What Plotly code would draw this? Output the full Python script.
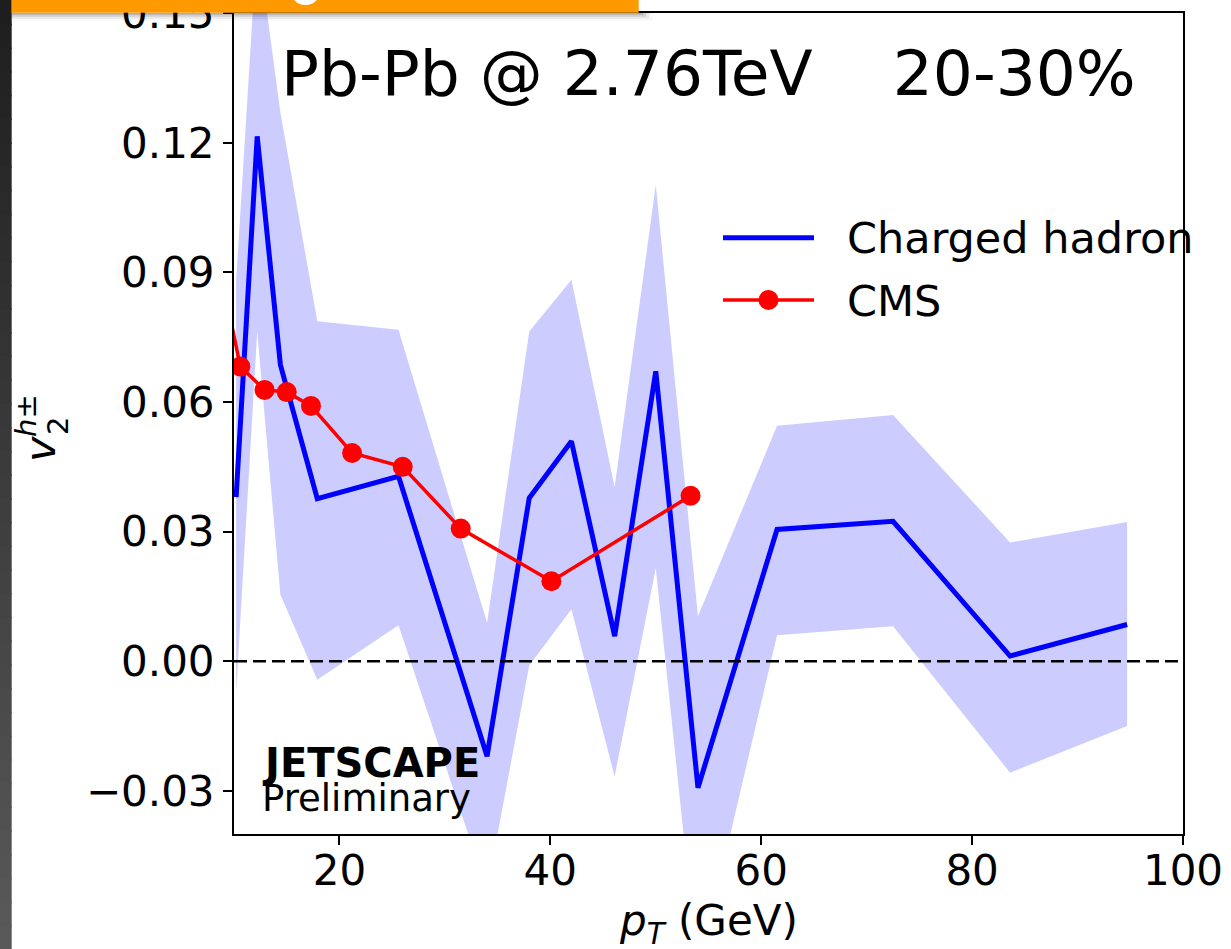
import plotly.graph_objects as go

# ---------------- data ----------------
pt_ch = [10.2, 12.2, 14.4, 17.9, 25.6, 34.0, 38.0, 42.0, 46.1, 50.0, 54.0, 61.5, 72.5, 83.6, 94.7]
v2_ch = [0.038, 0.1215, 0.0686, 0.0376, 0.0428, -0.022, 0.0378, 0.0509, 0.0058, 0.0671,
         -0.0293, 0.0305, 0.0324, 0.0012, 0.0085]
v2_ch_hi = [0.088, 0.167, 0.127, 0.0787, 0.0767, 0.0089, 0.0763, 0.0883, 0.0403, 0.1103,
            0.0104, 0.0545, 0.0570, 0.0275, 0.0322]
v2_ch_lo = [-0.0073, 0.0763, 0.0154, -0.0043, 0.0083, -0.053, -0.001, 0.012, -0.0267, 0.0216,
            -0.072, 0.006, 0.0081, -0.0258, -0.015]

pt_cms = [9.0, 10.6, 12.9, 15.0, 17.3, 21.2, 26.0, 31.5, 40.1, 53.3]
v2_cms = [0.087, 0.0682, 0.0628, 0.0623, 0.0591, 0.0482, 0.0450, 0.0307, 0.0185, 0.0383]

x_ticks = [20, 40, 60, 80, 100]
y_ticks = [-0.03, 0.0, 0.03, 0.06, 0.09, 0.12, 0.15]
y_ticklabels = ["\u22120.03", "0.00", "0.03", "0.06", "0.09", "0.12", "0.15"]

# ---------------- layout geometry ----------------
W, H = 1231, 949
ML, MR, MT, MB = 234, 48, 13, 115
PW, PH = W - ML - MR, H - MT - MB
FONT = "DejaVu Sans"


def px(x):
    return (x - ML) / PW


def py(y):
    return (H - MB - y) / PH


fig = go.Figure()

# uncertainty band
fig.add_trace(go.Scatter(x=pt_ch, y=v2_ch_hi, mode="lines", line=dict(width=0, color="rgba(0,0,255,0)"),
                         showlegend=False, hoverinfo="skip"))
fig.add_trace(go.Scatter(x=pt_ch, y=v2_ch_lo, mode="lines", line=dict(width=0, color="rgba(0,0,255,0)"),
                         fill="tonexty", fillcolor="rgba(0,0,255,0.2)", showlegend=False, hoverinfo="skip"))
# charged hadron line
fig.add_trace(go.Scatter(x=pt_ch, y=v2_ch, mode="lines", line=dict(color="#0000ff", width=5),
                         name="Charged hadron", showlegend=False))
# CMS
fig.add_trace(go.Scatter(x=pt_cms, y=v2_cms, mode="lines+markers", line=dict(color="#ff0000", width=3.5),
                         marker=dict(color="#ff0000", size=20), name="CMS", showlegend=False))

shapes = []
# zero dashed line
shapes.append(dict(type="line", xref="paper", yref="y", x0=0, x1=1, y0=0, y1=0,
                   line=dict(color="black", width=2.5, dash="13px,6px"), layer="above"))

# dark strip on left (screenshot edge)
n = 40
for i in range(n):
    y0 = H * i / n
    y1 = H * (i + 1) / n + 1.5
    g = int(0x1e + (0x5a - 0x1e) * (i + 0.5) / n)
    col = "rgb(%d,%d,%d)" % (g, g, g)
    shapes.append(dict(type="rect", xref="paper", yref="paper", x0=px(-2), x1=px(11.7),
                       y0=py(y1), y1=py(y0), fillcolor=col, line=dict(width=0), layer="above"))

# orange banner shadow
for k, a in enumerate([0.16, 0.10, 0.06, 0.03]):
    shapes.append(dict(type="rect", xref="paper", yref="paper", x0=px(11.7), x1=px(640 + 3 * (k + 1)),
                       y0=py(12.7 + 2 * (k + 1)), y1=py(12.7), fillcolor="rgba(0,0,0,%g)" % a,
                       line=dict(width=0), layer="above"))
# orange banner
shapes.append(dict(type="rect", xref="paper", yref="paper", x0=px(11.7), x1=px(638.7),
                   y0=py(12.7), y1=py(-5), fillcolor="#ff9900", line=dict(width=0), layer="above"))
# bottom of a white glyph peeking out of the banner
shapes.append(dict(type="circle", xref="paper", yref="paper", x0=px(293), x1=px(318),
                   y0=py(2.5), y1=py(-22), fillcolor="rgba(0,0,0,0)", line=dict(color="white", width=5),
                   layer="above"))

# legend lines
lx0, lx1 = 723, 814
shapes.append(dict(type="line", xref="paper", yref="paper", x0=px(lx0), x1=px(lx1),
                   y0=py(237.7), y1=py(237.7), line=dict(color="#0000ff", width=5), layer="above"))
shapes.append(dict(type="line", xref="paper", yref="paper", x0=px(lx0), x1=px(lx1),
                   y0=py(300), y1=py(300), line=dict(color="#ff0000", width=3.5), layer="above"))
r = 10
cx = (lx0 + lx1) / 2
shapes.append(dict(type="circle", xref="paper", yref="paper", x0=px(cx - r), x1=px(cx + r),
                   y0=py(300 + r), y1=py(300 - r), fillcolor="#ff0000", line=dict(width=0), layer="above"))

annotations = []


def ann(text, x, y, size, xanchor="left", yanchor="middle", angle=0, color="black"):
    annotations.append(dict(text=text, x=px(x), y=py(y), xref="paper", yref="paper", showarrow=False,
                            xanchor=xanchor, yanchor=yanchor, textangle=angle,
                            font=dict(family=FONT, size=size, color=color)))


ann("Pb-Pb @ 2.76TeV\u00a0\u00a0\u00a0\u00a020-30%", 279, 74, 63)
ann("Charged hadron", 845, 238, 43)
ann("CMS", 845, 301, 43)
ann("<b>JETSCAPE</b>", 260, 763, 40)
ann("Preliminary", 260, 798, 37)
ann("<i>p</i><sub><i>T</i></sub> (GeV)", 708.5, 923, 42, xanchor="center")
# y label v_2^{h±}
ann("<i>v</i>", 40, 449, 43, xanchor="center", angle=-90)
ann("2", 58, 426, 29, xanchor="center", angle=-90)
ann("<i>h</i>\u00b1", 26, 416, 29, xanchor="center", angle=-90)

fig.update_layout(
    width=W, height=H,
    margin=dict(l=ML, r=MR, t=MT, b=MB, autoexpand=False),
    paper_bgcolor="white", plot_bgcolor="white",
    showlegend=False,
    shapes=shapes, annotations=annotations,
    font=dict(family=FONT, size=42, color="black"),
    xaxis=dict(range=[10, 100], tickvals=x_ticks, ticks="outside", ticklen=9, tickwidth=1.5,
               tickcolor="black", showline=True, linewidth=2, linecolor="black", mirror=True,
               showgrid=False, zeroline=False, automargin=False, ticklabelstandoff=-10,
               ticklabeloverflow="allow",
               tickfont=dict(family=FONT, size=42, color="black")),
    yaxis=dict(range=[-0.04, 0.15005], tickvals=y_ticks, ticktext=y_ticklabels, ticks="outside",
               ticklen=9, tickwidth=1.5, tickcolor="black", showline=True, linewidth=2,
               linecolor="black", mirror=True, showgrid=False, zeroline=False, automargin=False,
               ticklabeloverflow="allow",
               tickfont=dict(family=FONT, size=42, color="black")),
)

fig.write_html("out.html")
